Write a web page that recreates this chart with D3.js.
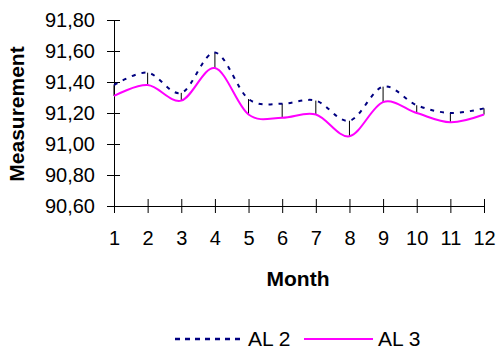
<!DOCTYPE html>
<html>
<head>
<meta charset="utf-8">
<script src="https://cdn.jsdelivr.net/npm/d3@7"></script>
<style>
  body { margin: 0; background: #fff; }
  text { font-family: "Liberation Sans", Arial, sans-serif; fill: #000; }
</style>
</head>
<body>
<div id="chart"></div>
<script>
// data
var months = [1, 2, 3, 4, 5, 6, 7, 8, 9, 10, 11, 12];
var al2 = [91.38, 91.46, 91.33, 91.59, 91.29, 91.26, 91.28, 91.15, 91.37, 91.25, 91.20, 91.23];
var al3 = [91.31, 91.38, 91.28, 91.49, 91.19, 91.17, 91.19, 91.05, 91.27, 91.20, 91.14, 91.19];
var yTicks = [90.6, 90.8, 91.0, 91.2, 91.4, 91.6, 91.8];

var width = 499, height = 352;

var svg = d3.select("#chart").append("svg")
  .attr("width", width)
  .attr("height", height);

var x = d3.scaleLinear().domain([1, 12]).range([114, 484]);
var y = d3.scaleLinear().domain([90.6, 91.8]).range([206, 20]);

var fmt = function(d) { return d3.format(".2f")(d).replace(".", ","); };

// y axis
var yAxis = svg.append("g")
  .attr("transform", "translate(114,0)")
  .call(d3.axisLeft(y).tickValues(yTicks).tickFormat(fmt).tickSize(7).tickPadding(12));
yAxis.selectAll(".tick line").attr("x2", -7).attr("x1", 6);
yAxis.selectAll("text").style("font-size", "20px");
yAxis.select(".domain").attr("d", "M0.5," + y(91.8) + "V" + y(90.6));

// x axis
var xAxis = svg.append("g")
  .attr("transform", "translate(0,206)")
  .call(d3.axisBottom(x).tickValues(months).tickFormat(d3.format("d")).tickSize(7).tickPadding(18));
xAxis.selectAll(".tick line").attr("y1", -7).attr("y2", 7);
xAxis.selectAll("text").style("font-size", "20px");
xAxis.select(".domain").attr("d", "M114,0.5H484");

// high-low lines between the two series
svg.append("g").selectAll("line")
  .data(months)
  .enter()
  .append("line")
  .attr("x1", function(d) { return x(d); })
  .attr("x2", function(d) { return x(d); })
  .attr("y1", function(d, i) { return y(al2[i]); })
  .attr("y2", function(d, i) { return y(al3[i]); })
  .attr("stroke", "#000")
  .attr("stroke-width", 1);

var line = d3.line()
  .x(function(d, i) { return x(months[i]); })
  .y(function(d) { return y(d); })
  .curve(d3.curveCatmullRom.alpha(0));

svg.append("path")
  .datum(al3)
  .attr("d", line)
  .attr("fill", "none")
  .attr("stroke", "#ff00ff")
  .attr("stroke-width", 2);

svg.append("path")
  .datum(al2)
  .attr("d", line)
  .attr("fill", "none")
  .attr("stroke", "#000080")
  .attr("stroke-width", 2)
  .attr("stroke-dasharray", "4,6");

// axis titles
svg.append("text")
  .attr("x", 298)
  .attr("y", 286)
  .attr("text-anchor", "middle")
  .style("font-size", "21px")
  .style("font-weight", "bold")
  .text("Month");

svg.append("text")
  .attr("transform", "translate(24,114) rotate(-90)")
  .attr("text-anchor", "middle")
  .style("font-size", "21px")
  .style("font-weight", "bold")
  .text("Measurement");

// legend
var legend = svg.append("g");
legend.append("line")
  .attr("x1", 175).attr("x2", 240).attr("y1", 339).attr("y2", 339)
  .attr("stroke", "#000080").attr("stroke-width", 2.5).attr("stroke-dasharray", "5,5");
legend.append("text").attr("x", 248).attr("y", 346).style("font-size", "21px").text("AL 2");
legend.append("line")
  .attr("x1", 304).attr("x2", 373).attr("y1", 339).attr("y2", 339)
  .attr("stroke", "#ff00ff").attr("stroke-width", 2);
legend.append("text").attr("x", 378).attr("y", 346).style("font-size", "21px").text("AL 3");
</script>
</body>
</html>
